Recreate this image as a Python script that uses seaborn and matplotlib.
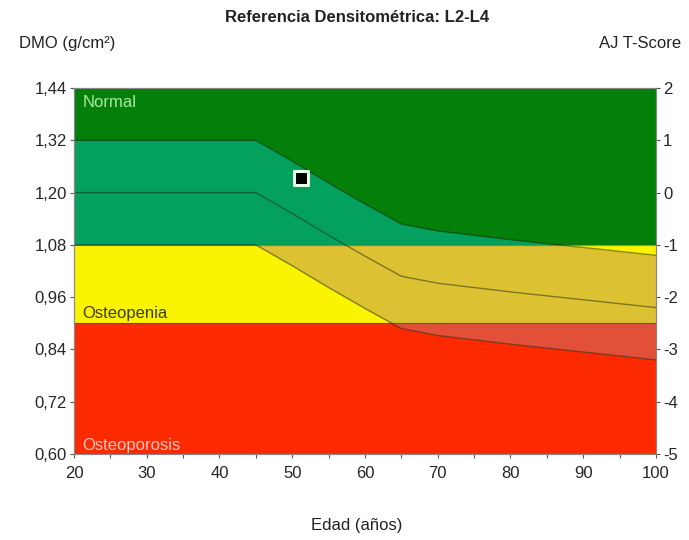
import numpy as np
import matplotlib
matplotlib.use("Agg")
import matplotlib.pyplot as plt
import seaborn as sns
from matplotlib.patches import Rectangle

# --- datos de referencia (L2-L4) ---
edad = [20, 45, 50, 55, 60, 65, 70, 80, 90, 100]
dmo_sup = [1.32, 1.32, 1.272, 1.222, 1.174, 1.128, 1.112, 1.092, 1.074, 1.056]   # +1 DE
dmo_media = [1.20, 1.20, 1.152, 1.102, 1.054, 1.008, 0.992, 0.972, 0.954, 0.936]
dmo_inf = [1.08, 1.08, 1.032, 0.982, 0.934, 0.888, 0.872, 0.852, 0.834, 0.816]  # -1 DE

paciente_edad = [51.2]
paciente_dmo = [1.233]

# bandas OMS: (desde, hasta, color base, color del rango por edad)
bandas = [
    (1.08, 1.44, "#037f0a", "#03a05e"),
    (0.90, 1.08, "#fbf400", "#dcc232"),
    (0.60, 0.90, "#fd2a00", "#e2503a"),
]
yticks_dmo = [0.60, 0.72, 0.84, 0.96, 1.08, 1.20, 1.32, 1.44]
yticks_t = [-5, -4, -3, -2, -1, 0, 1, 2]

sns.set_theme(style="white")
plt.rcParams["font.family"] = ["Liberation Sans", "DejaVu Sans"]
plt.rcParams["axes.unicode_minus"] = False

fig = plt.figure(figsize=(6.89, 5.40), dpi=100)
ax = fig.add_axes([0.1074, 0.1593, 0.8447, 0.6777])

for y0, y1, base, tinte in bandas:
    ax.axhspan(y0, y1, color=base, lw=0, zorder=0)
    poly = ax.fill_between(edad, dmo_inf, dmo_sup, color=tinte, lw=0, zorder=1)
    poly.set_clip_path(Rectangle((20, y0), 80, y1 - y0, transform=ax.transData))

for y in (1.08, 0.90):
    ax.axhline(y, color="#3a3a10", lw=0.9, alpha=0.45, zorder=2)

for serie in (dmo_sup, dmo_media, dmo_inf):
    sns.lineplot(x=edad, y=serie, ax=ax, color="#1c2a10", lw=1.0, alpha=0.5, zorder=3)

sns.scatterplot(x=paciente_edad, y=paciente_dmo, ax=ax, marker="s", s=110,
                color="black", edgecolor="#e8ffe8", linewidth=2.2, zorder=5)

ax.set_xlim(20, 100)
ax.set_ylim(0.60, 1.44)
ax.set_xticks(range(20, 101, 10))
ax.set_xticks(range(25, 100, 10), minor=True)
ax.set_yticks(yticks_dmo)
ax.set_yticklabels([f"{v:.2f}".replace(".", ",") for v in yticks_dmo])
ax.tick_params(axis="both", which="both", direction="out", length=3, width=0.8,
               color="#555555", labelsize=12, pad=2, bottom=True, left=True)
ax.tick_params(axis="x", pad=6)

ax2 = ax.twinx()
ax2.set_ylim(-5, 2)
ax2.set_yticks(yticks_t)
ax2.tick_params(axis="y", direction="out", length=3, width=0.8, color="#555555",
                labelsize=12, pad=2, right=True)
ax2.grid(False)

for a in (ax, ax2):
    for s in a.spines.values():
        s.set_color("#888888")
        s.set_linewidth(0.8)

ax.text(21.2, 1.425, "Normal", color="#a8e8a0", fontsize=12, va="top", zorder=6)
ax.text(21.2, 0.905, "Osteopenia", color="#3d3d00", fontsize=12, va="bottom", zorder=6)
ax.text(21.2, 0.603, "Osteoporosis", color="#ffc8c0", fontsize=12, va="bottom", zorder=6)

fig.text(0.518, 0.968, "Referencia Densitométrica: L2-L4", ha="center", va="center",
         fontsize=12, fontweight="bold", color="#222222")
fig.text(0.028, 0.92, "DMO (g/cm²)", ha="left", va="center", fontsize=12, color="#222222")
fig.text(0.988, 0.92, "AJ T-Score", ha="right", va="center", fontsize=12, color="#222222")
fig.text(0.518, 0.026, "Edad (años)", ha="center", va="center", fontsize=12, color="#222222")

fig.savefig("out.png", dpi=100, facecolor="white")
